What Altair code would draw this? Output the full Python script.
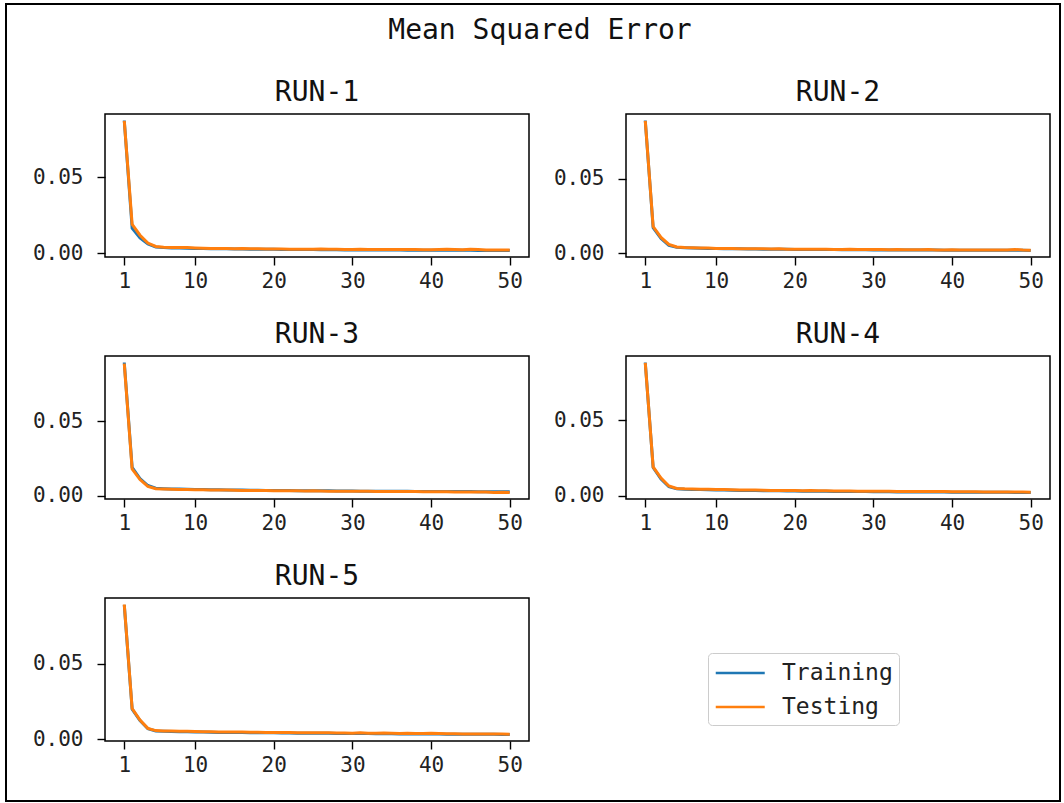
import altair as alt
import pandas as pd

FONT = "DejaVu Sans Mono"

epochs = list(range(1, 51))
runs = ["RUN-1", "RUN-2", "RUN-3", "RUN-4", "RUN-5"]
series_names = ["Training", "Testing"]
series_colors = ["#1f77b4", "#ff7f0e"]
x_ticks = [1, 10, 20, 30, 40, 50]
y_ticks = [0.0, 0.05]

# per-epoch mean squared error, one list per run and split
r1_train = [0.0875, 0.0165, 0.0100, 0.0060, 0.0040, 0.0036, 0.0034, 0.0033, 0.0032, 0.0031,
            0.0030, 0.0029, 0.0028, 0.0028, 0.0027, 0.0027, 0.0026, 0.0025, 0.0025, 0.0025,
            0.0024, 0.0024, 0.0023, 0.0023, 0.0023, 0.0022, 0.0022, 0.0022, 0.0021, 0.0021,
            0.0021, 0.0021, 0.0020, 0.0020, 0.0020, 0.0020, 0.0019, 0.0019, 0.0019, 0.0019,
            0.0018, 0.0018, 0.0018, 0.0018, 0.0018, 0.0017, 0.0017, 0.0017, 0.0017, 0.0017]
r1_test = [0.0872, 0.0190, 0.0118, 0.0066, 0.0044, 0.0039, 0.0037, 0.0036, 0.0036, 0.0034,
           0.0032, 0.0031, 0.0030, 0.0030, 0.0029, 0.0031, 0.0028, 0.0028, 0.0027, 0.0027,
           0.0027, 0.0026, 0.0026, 0.0025, 0.0026, 0.0027, 0.0025, 0.0025, 0.0024, 0.0024,
           0.0025, 0.0024, 0.0024, 0.0024, 0.0023, 0.0023, 0.0023, 0.0023, 0.0022, 0.0022,
           0.0023, 0.0025, 0.0023, 0.0022, 0.0026, 0.0024, 0.0020, 0.0020, 0.0020, 0.0020]

r2_train = [0.0890, 0.0170, 0.0098, 0.0052, 0.0038, 0.0035, 0.0033, 0.0032, 0.0031, 0.0030,
            0.0029, 0.0028, 0.0028, 0.0027, 0.0027, 0.0026, 0.0026, 0.0025, 0.0025, 0.0024,
            0.0024, 0.0024, 0.0023, 0.0023, 0.0023, 0.0022, 0.0022, 0.0022, 0.0022, 0.0021,
            0.0021, 0.0021, 0.0021, 0.0020, 0.0020, 0.0020, 0.0020, 0.0020, 0.0019, 0.0019,
            0.0019, 0.0019, 0.0019, 0.0018, 0.0018, 0.0018, 0.0018, 0.0018, 0.0018, 0.0017]
r2_test = [0.0888, 0.0178, 0.0105, 0.0058, 0.0041, 0.0037, 0.0035, 0.0034, 0.0033, 0.0031,
           0.0030, 0.0030, 0.0029, 0.0029, 0.0028, 0.0028, 0.0027, 0.0028, 0.0026, 0.0026,
           0.0026, 0.0025, 0.0026, 0.0025, 0.0024, 0.0024, 0.0025, 0.0023, 0.0023, 0.0024,
           0.0023, 0.0022, 0.0023, 0.0022, 0.0022, 0.0022, 0.0023, 0.0021, 0.0021, 0.0022,
           0.0021, 0.0020, 0.0021, 0.0020, 0.0020, 0.0021, 0.0020, 0.0024, 0.0020, 0.0019]

r3_train = [0.0895, 0.0190, 0.0115, 0.0068, 0.0050, 0.0047, 0.0045, 0.0044, 0.0043, 0.0042,
            0.0041, 0.0040, 0.0039, 0.0038, 0.0038, 0.0037, 0.0036, 0.0036, 0.0035, 0.0035,
            0.0034, 0.0034, 0.0033, 0.0033, 0.0033, 0.0032, 0.0032, 0.0031, 0.0031, 0.0031,
            0.0030, 0.0030, 0.0030, 0.0029, 0.0029, 0.0029, 0.0029, 0.0028, 0.0028, 0.0028,
            0.0028, 0.0027, 0.0027, 0.0027, 0.0027, 0.0026, 0.0026, 0.0026, 0.0026, 0.0026]
r3_test = [0.0888, 0.0180, 0.0108, 0.0062, 0.0046, 0.0044, 0.0043, 0.0042, 0.0041, 0.0040,
           0.0039, 0.0038, 0.0037, 0.0037, 0.0036, 0.0035, 0.0035, 0.0034, 0.0034, 0.0033,
           0.0033, 0.0032, 0.0032, 0.0031, 0.0033, 0.0031, 0.0030, 0.0030, 0.0030, 0.0029,
           0.0029, 0.0029, 0.0028, 0.0028, 0.0028, 0.0027, 0.0027, 0.0027, 0.0026, 0.0026,
           0.0026, 0.0026, 0.0025, 0.0025, 0.0025, 0.0024, 0.0024, 0.0021, 0.0022, 0.0021]

r4_train = [0.0880, 0.0188, 0.0112, 0.0062, 0.0047, 0.0044, 0.0043, 0.0042, 0.0041, 0.0040,
            0.0039, 0.0038, 0.0037, 0.0036, 0.0036, 0.0035, 0.0034, 0.0034, 0.0033, 0.0033,
            0.0032, 0.0032, 0.0031, 0.0031, 0.0030, 0.0030, 0.0030, 0.0029, 0.0029, 0.0028,
            0.0028, 0.0028, 0.0027, 0.0027, 0.0027, 0.0026, 0.0026, 0.0026, 0.0026, 0.0025,
            0.0025, 0.0025, 0.0025, 0.0024, 0.0024, 0.0024, 0.0024, 0.0023, 0.0023, 0.0023]
r4_test = [0.0878, 0.0192, 0.0118, 0.0066, 0.0050, 0.0047, 0.0046, 0.0045, 0.0044, 0.0043,
           0.0042, 0.0041, 0.0040, 0.0039, 0.0039, 0.0038, 0.0037, 0.0037, 0.0036, 0.0036,
           0.0035, 0.0036, 0.0034, 0.0034, 0.0033, 0.0033, 0.0033, 0.0032, 0.0032, 0.0031,
           0.0031, 0.0031, 0.0030, 0.0030, 0.0030, 0.0029, 0.0029, 0.0029, 0.0029, 0.0028,
           0.0028, 0.0028, 0.0028, 0.0027, 0.0027, 0.0027, 0.0026, 0.0026, 0.0026, 0.0025]

r5_train = [0.0890, 0.0198, 0.0122, 0.0068, 0.0053, 0.0051, 0.0050, 0.0049, 0.0048, 0.0047,
            0.0046, 0.0045, 0.0044, 0.0044, 0.0043, 0.0043, 0.0042, 0.0042, 0.0041, 0.0041,
            0.0040, 0.0040, 0.0039, 0.0039, 0.0038, 0.0038, 0.0038, 0.0037, 0.0037, 0.0036,
            0.0036, 0.0036, 0.0035, 0.0035, 0.0035, 0.0034, 0.0034, 0.0034, 0.0033, 0.0033,
            0.0033, 0.0032, 0.0032, 0.0032, 0.0031, 0.0031, 0.0031, 0.0031, 0.0030, 0.0030]
r5_test = [0.0892, 0.0202, 0.0126, 0.0071, 0.0056, 0.0054, 0.0053, 0.0052, 0.0051, 0.0050,
           0.0049, 0.0048, 0.0047, 0.0047, 0.0046, 0.0046, 0.0045, 0.0045, 0.0044, 0.0044,
           0.0043, 0.0043, 0.0042, 0.0042, 0.0041, 0.0041, 0.0041, 0.0040, 0.0040, 0.0039,
           0.0041, 0.0039, 0.0038, 0.0040, 0.0038, 0.0037, 0.0038, 0.0036, 0.0036, 0.0039,
           0.0037, 0.0035, 0.0035, 0.0034, 0.0034, 0.0034, 0.0033, 0.0033, 0.0033, 0.0032]

run_data = [
    (r1_train, r1_test),
    (r2_train, r2_test),
    (r3_train, r3_test),
    (r4_train, r4_test),
    (r5_train, r5_test),
]

PW, PH = 424, 143      # plot area of each panel
COL_GAP, ROW_GAP = 97, 99


def padded(lo, hi, frac=0.05):
    pad = (hi - lo) * frac
    return [lo - pad, hi + pad]


def panel(name, train, test, with_legend=False):
    df = pd.DataFrame({
        "epoch": epochs + epochs,
        "mse": train + test,
        "series": [series_names[0]] * len(train) + [series_names[1]] * len(test),
    })
    all_vals = train + test
    legend = alt.Legend(
        title=None,
        orient="none",
        legendX=603,
        legendY=539,
        symbolType="M-1,0H3",
        symbolSize=600,
        symbolStrokeWidth=2.6,
        labelFont=FONT,
        labelFontSize=23,
        labelColor="#222222",
        labelOffset=40,
        rowPadding=8,
        padding=6,
        cornerRadius=4,
        strokeColor="#cccccc",
        fillColor="white",
    )
    lines = alt.Chart(df).mark_line(strokeWidth=3).encode(
        x=alt.X("epoch:Q",
                scale=alt.Scale(domain=padded(1, 50), nice=False, zero=False),
                axis=alt.Axis(values=x_ticks, title=None)),
        y=alt.Y("mse:Q",
                scale=alt.Scale(domain=padded(min(all_vals), max(all_vals)), nice=False, zero=False),
                axis=alt.Axis(values=y_ticks, format=".2f", title=None)),
        color=alt.Color("series:N",
                        scale=alt.Scale(domain=series_names, range=series_colors),
                        sort=series_names,
                        legend=legend if with_legend else None),
    )
    title = alt.TitleParams(name, font=FONT, fontSize=28, fontWeight="normal",
                            color="#111111", anchor="middle", offset=7)
    return lines.properties(width=PW, height=PH, title=title)


panels = [
    panel(runs[i], tr, te, with_legend=(i == 0))
    for i, (tr, te) in enumerate(run_data)
]

# the empty sixth cell carries the outer figure frame
frame_cell = alt.Chart(alt.Data(values=[{"k": 1}])).mark_rect(
    fillOpacity=0, stroke="black", strokeWidth=2
).encode(
    x=alt.value(-620), x2=alt.value(434),
    y=alt.value(-594), y2=alt.value(203),
).properties(width=PW, height=PH, view=alt.ViewBackground(stroke="transparent"))

chart = alt.concat(
    *panels, frame_cell,
    columns=2,
    spacing={"row": ROW_GAP, "column": COL_GAP},
    bounds="flush",
    title=alt.TitleParams("Mean Squared Error", font=FONT, fontSize=28, fontWeight="normal",
                          color="#111111", anchor="middle", offset=-43, dx=7),
).properties(
    padding={"left": 4, "top": 2, "right": 2, "bottom": 2},
    background="white",
).configure_axis(
    domain=False,
    grid=False,
    ticks=True,
    tickColor="black",
    tickSize=8,
    tickWidth=1.4,
    labelFont=FONT,
    labelFontSize=21,
    labelColor="#222222",
    labelPadding=5,
).configure_axisY(
    labelPadding=14,
).configure_view(
    stroke="black",
    strokeWidth=1.5,
)

chart.save("out.html", embed_options={"renderer": "svg", "actions": False})
